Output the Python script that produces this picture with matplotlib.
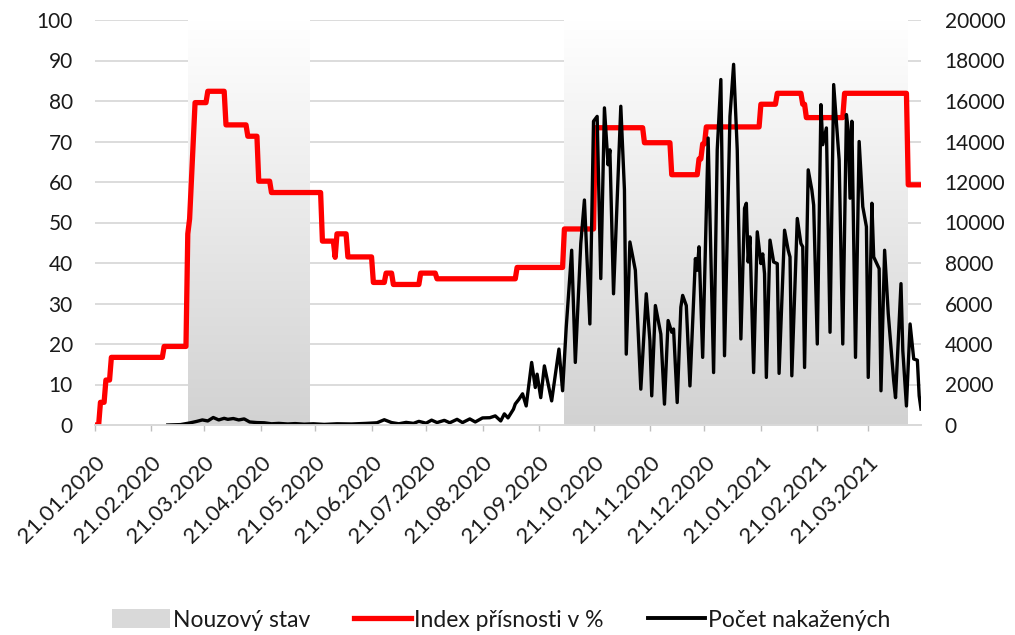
import numpy as np
import pandas as pd
import matplotlib
matplotlib.use("Agg")
import matplotlib.pyplot as plt
import matplotlib.dates as mdates
from matplotlib.colors import LinearSegmentedColormap
from matplotlib.patches import Patch
from matplotlib.lines import Line2D

plt.rcParams['font.family'] = ['Lato', 'DejaVu Sans']

# nouzovy stav (state of emergency)
emergency_start = ['2020-03-12', '2020-10-05']
emergency_end = ['2020-05-18', '2021-04-12']

# stringency index, value from given day on
index_dates = ['2020-01-21', '2020-01-24', '2020-01-27', '2020-01-30', '2020-02-28',
               '2020-03-12', '2020-03-13', '2020-03-14', '2020-03-15', '2020-03-16',
               '2020-03-23', '2020-04-02', '2020-04-14', '2020-04-20', '2020-04-27',
               '2020-05-25', '2020-06-01', '2020-06-02', '2020-06-08', '2020-06-22',
               '2020-06-29', '2020-07-03', '2020-07-18', '2020-07-27', '2020-09-09',
               '2020-10-05', '2020-10-22', '2020-11-18', '2020-12-03', '2020-12-18',
               '2020-12-20', '2020-12-22', '2021-01-21', '2021-01-30', '2021-02-13',
               '2021-02-15', '2021-03-08', '2021-04-12', '2021-04-19']
index_values = [0, 5.6, 11.1, 16.7, 19.4,
                47.2, 50.9, 60.2, 70.0, 79.6,
                82.4, 74.1, 71.3, 60.2, 57.4,
                45.4, 41.4, 47.2, 41.5, 35.2,
                37.5, 34.7, 37.5, 36.1, 38.9,
                48.4, 73.4, 69.7, 61.8, 65.7,
                69.4, 73.6, 79.2, 81.9, 79.2,
                75.9, 81.9, 59.3, 59.3]

# pocet nakazenych (daily new cases)
case_dates = ['2020-03-01', '2020-03-08', '2020-03-13', '2020-03-17', '2020-03-20', '2020-03-23',
              '2020-03-26', '2020-03-29', '2020-04-01', '2020-04-03', '2020-04-06', '2020-04-09',
              '2020-04-12', '2020-04-15', '2020-04-19', '2020-04-23', '2020-04-27', '2020-05-01',
              '2020-05-06', '2020-05-10', '2020-05-15', '2020-05-20', '2020-05-26', '2020-06-02',
              '2020-06-10', '2020-06-18', '2020-06-24', '2020-06-28', '2020-07-02', '2020-07-06',
              '2020-07-10', '2020-07-14', '2020-07-17', '2020-07-21', '2020-07-24', '2020-07-27',
              '2020-07-31', '2020-08-03', '2020-08-07', '2020-08-10', '2020-08-14', '2020-08-17',
              '2020-08-21', '2020-08-25', '2020-08-28', '2020-08-31', '2020-09-02', '2020-09-04',
              '2020-09-07', '2020-09-08', '2020-09-10', '2020-09-12', '2020-09-14', '2020-09-17',
              '2020-09-19', '2020-09-20', '2020-09-22', '2020-09-24', '2020-09-28', '2020-10-02',
              '2020-10-04', '2020-10-06', '2020-10-09', '2020-10-11', '2020-10-14', '2020-10-16',
              '2020-10-19', '2020-10-21', '2020-10-23', '2020-10-25', '2020-10-27', '2020-10-29',
              '2020-10-30', '2020-11-01', '2020-11-05', '2020-11-07', '2020-11-08', '2020-11-10',
              '2020-11-13', '2020-11-16', '2020-11-19', '2020-11-21', '2020-11-22', '2020-11-24',
              '2020-11-27', '2020-11-29', '2020-12-01', '2020-12-03', '2020-12-04', '2020-12-06',
              '2020-12-08', '2020-12-09', '2020-12-11', '2020-12-13', '2020-12-16', '2020-12-17',
              '2020-12-18', '2020-12-20', '2020-12-23', '2020-12-26', '2020-12-28', '2020-12-30',
              '2021-01-01', '2021-01-04', '2021-01-06', '2021-01-08', '2021-01-10', '2021-01-12',
              '2021-01-13', '2021-01-14', '2021-01-15', '2021-01-17', '2021-01-19', '2021-01-21',
              '2021-01-22', '2021-01-23', '2021-01-24', '2021-01-26', '2021-01-28', '2021-01-30',
              '2021-01-31', '2021-02-03', '2021-02-05', '2021-02-06', '2021-02-07', '2021-02-10',
              '2021-02-12', '2021-02-13', '2021-02-14', '2021-02-16', '2021-02-18', '2021-02-19',
              '2021-02-21', '2021-02-23', '2021-02-24', '2021-02-26', '2021-02-28', '2021-03-02',
              '2021-03-05', '2021-03-07', '2021-03-09', '2021-03-10', '2021-03-11', '2021-03-12',
              '2021-03-14', '2021-03-16', '2021-03-18', '2021-03-20', '2021-03-21', '2021-03-23',
              '2021-03-24', '2021-03-27', '2021-03-28', '2021-03-30', '2021-04-01', '2021-04-04',
              '2021-04-05', '2021-04-08', '2021-04-09', '2021-04-11', '2021-04-13', '2021-04-15',
              '2021-04-17', '2021-04-18', '2021-04-19']
case_values = [0, 20, 100, 180, 250, 200,
               370, 250, 330, 280, 320, 250,
               300, 150, 120, 110, 60, 80,
               50, 70, 40, 60, 30, 60,
               50, 80, 110, 260, 120, 60,
               130, 80, 180, 90, 240, 120,
               230, 110, 280, 120, 300, 150,
               350, 360, 450, 200, 550, 350,
               780, 1040, 1270, 1540, 940, 3090,
               1850, 2510, 1350, 2920, 1190, 3750,
               1690, 4820, 8630, 3090, 8960, 11110,
               4990, 15000, 15240, 7230, 15660, 12850,
               13590, 6480, 15740, 11610, 3500, 9040,
               7640, 1770, 6480, 4160, 1440, 5900,
               4490, 1030, 5160, 4580, 4740, 1110,
               5820, 6400, 5900, 1930, 8220, 7640,
               8800, 3340, 14170, 2590, 13590, 17060,
               3420, 15240, 17810, 13590, 4250, 10700,
               10950, 8050, 9290, 2590, 9540, 7970,
               8450, 7470, 2350, 9130, 8050, 7970,
               2550, 9620, 8630, 8300, 2430, 10200,
               8960, 8800, 2840, 12600, 11610, 10860,
               4000, 15820, 13840, 14670, 4580, 16810,
               13100, 4000, 15330, 14580, 11200, 15000,
               3340, 14000, 10780, 9790, 2350, 10950,
               8300, 7720, 1690, 8630, 5490, 2180,
               1350, 6980, 3670, 940, 4990, 3260,
               3200, 1440, 780]

tick_labels = ['21.01.2020', '21.02.2020', '21.03.2020', '21.04.2020', '21.05.2020',
               '21.06.2020', '21.07.2020', '21.08.2020', '21.09.2020', '21.10.2020',
               '21.11.2020', '21.12.2020', '21.01.2021', '21.02.2021', '21.03.2021']

legend_labels = ['Nouzový stav', 'Index přísnosti v %', 'Počet nakažených']

txt = '#1a1a1a'
grid_col = '#d9d9d9'

fig = plt.figure(figsize=(10.15, 6.35), dpi=100)
ax = fig.add_axes([95 / 1015, 1 - 425 / 635, 826 / 1015, 405 / 635])
ax2 = ax.twinx()

# stringency index as a daily step series
idx = pd.Series(index_values, index=pd.to_datetime(index_dates)).resample('D').ffill()
ax.plot(idx.index, idx.values, color='#ff0000', lw=3.8, zorder=3)

# emergency periods as vertical gradient (grey at bottom, white at top)
cmap = LinearSegmentedColormap.from_list('nouz', ['#d2d2d2', '#ffffff'])
grad = np.linspace(0, 1, 256).reshape(-1, 1)
for s0, s1 in zip(emergency_start, emergency_end):
    x0 = mdates.date2num(pd.Timestamp(s0))
    x1 = mdates.date2num(pd.Timestamp(s1))
    ax.imshow(grad, extent=[x0, x1, 0, 100], origin='lower', aspect='auto',
              cmap=cmap, vmin=0, vmax=1, zorder=1)

ax2.plot(pd.to_datetime(case_dates), case_values, color='black', lw=2.4,
         solid_joinstyle='round')

ax.set_xlim(pd.Timestamp('2020-01-21'), pd.Timestamp('2021-04-19'))
ax.set_ylim(0, 100)
ax2.set_ylim(0, 20000)

ax.set_yticks(np.arange(0, 101, 10))
ax2.set_yticks(np.arange(0, 20001, 2000))
ax.yaxis.grid(True, color=grid_col, lw=1.3)
ax.set_axisbelow(True)

ticks = pd.to_datetime(tick_labels, format='%d.%m.%Y')
ax.set_xticks(ticks)
ax.set_xticklabels(tick_labels, rotation=45, ha='right', rotation_mode='anchor')

for a in (ax, ax2):
    for side in ('top', 'left', 'right'):
        a.spines[side].set_visible(False)
    a.spines['bottom'].set_color(grid_col)
    a.spines['bottom'].set_linewidth(1.3)

ax.tick_params(axis='x', length=4, color='#bfbfbf', width=1, pad=16, labelsize=16, labelcolor=txt)
ax.tick_params(axis='y', length=0, pad=16, labelsize=15, labelcolor=txt)
ax2.tick_params(axis='y', length=0, pad=17, labelsize=15, labelcolor=txt)

handles = [Patch(facecolor='#d9d9d9', edgecolor='none'),
           Line2D([], [], color='#ff0000', lw=3.8),
           Line2D([], [], color='black', lw=2.8)]
fig.legend(handles, legend_labels, loc='center', bbox_to_anchor=(0.494, 1 - 620 / 635),
           ncol=3, frameon=False, fontsize=16.5, handlelength=2.5, handleheight=0.9,
           handletextpad=0.15, columnspacing=1.9, labelcolor=txt)

fig.savefig('out.png', dpi=100)
